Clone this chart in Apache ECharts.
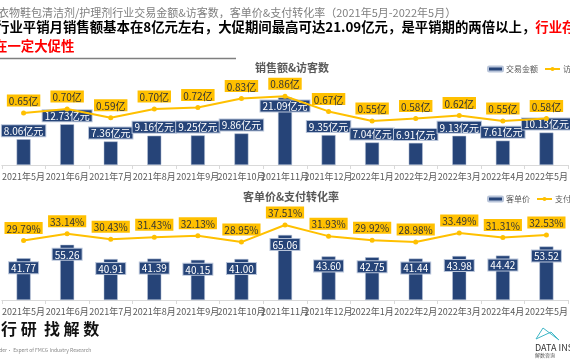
<!DOCTYPE html>
<html><head><meta charset="utf-8">
<script src="https://cdn.jsdelivr.net/npm/echarts@6/dist/echarts.min.js"></script>
<style>html,body{margin:0;padding:0;background:#fff}#c{width:570px;height:360px}</style>
</head><body><div id="c"></div>
<script>
const months = ['2021年5月','2021年6月','2021年7月','2021年8月','2021年9月','2021年10月','2021年11月','2021年12月','2022年1月','2022年2月','2022年3月','2022年4月','2022年5月'];
const sales = [8.06,12.73,7.36,9.16,9.25,9.86,21.09,9.35,7.04,6.91,9.13,7.61,10.13];
const visitors = [0.65,0.70,0.59,0.70,0.72,0.83,0.86,0.67,0.55,0.58,0.62,0.55,0.58];
const aov = [41.77,55.26,40.91,41.39,40.15,41.00,65.06,43.60,42.75,41.44,43.98,44.42,53.52];
const cvr = [29.79,33.14,30.43,31.43,32.13,28.95,37.51,31.93,29.92,28.98,33.49,31.31,32.53];

const FONT = '"Noto Sans CJK SC", "Noto Sans", sans-serif';
const BLUE = '#264478', GOLD = '#FFC000';
const chart = echarts.init(document.getElementById('c'));

const xAxisBase = (gi, margin) => ({
  type: 'category', gridIndex: gi, data: months, boundaryGap: true,
  axisLine: {lineStyle: {color: '#d9d9d9'}},
  axisTick: {show: true, length: 4, lineStyle: {color: '#d9d9d9'}},
  axisLabel: {interval: 0, fontSize: 9, color: '#595959', margin: margin, fontFamily: FONT}
});
const yHidden = (gi, max) => ({type: 'value', gridIndex: gi, min: 0, max: max, show: false, splitLine: {show: false}});

const barLabel = {
  show: true, color: '#fff', fontSize: 10, fontFamily: FONT,
  backgroundColor: BLUE, borderColor: '#b8c4d9', borderWidth: 1, padding: [1, 2, 0, 2]
};
const lineLabel = {
  show: true, position: 'top', distance: 4, color: '#333', fontSize: 10, fontFamily: FONT,
  backgroundColor: GOLD, padding: [2, 2, 0, 2]
};
const legendText = {fontSize: 8, color: '#595959', fontFamily: FONT, padding: [0, 0, 0, -2]};

chart.setOption({
  animation: false,
  textStyle: {fontFamily: FONT},
  grid: [
    {left: -7, right: -13, top: 85, height: 80},
    {left: -7, right: -13, top: 220, height: 80}
  ],
  xAxis: [xAxisBase(0, 7), xAxisBase(1, 7)],
  yAxis: [yHidden(0, 25), yHidden(0, 1.0), yHidden(1, 80), yHidden(1, 40)],
  legend: [
    {left: 487, top: 65, width: 300, padding: 0, itemWidth: 15, itemHeight: 5, itemGap: 6, data: ['交易金额', '访问人数'], textStyle: legendText},
    {left: 487, top: 195, width: 300, padding: 0, itemWidth: 15, itemHeight: 5, itemGap: 6, data: ['客单价', '支付转化率'], textStyle: legendText}
  ],
  series: [
    {name: '交易金额', type: 'bar', xAxisIndex: 0, yAxisIndex: 0, barWidth: 14,
     itemStyle: {color: BLUE, borderColor: '#b8c4d9', borderWidth: 0.5},
     data: sales.map((v, i) => i === 6 ? {value: v, label: {position: 'insideTop', distance: 3}} : v),
     label: Object.assign({}, barLabel, {position: 'top', distance: 3, formatter: p => p.value.toFixed(2) + '亿元'})},
    {name: '访问人数', type: 'line', xAxisIndex: 0, yAxisIndex: 1, symbol: 'circle', symbolSize: 5,
     itemStyle: {color: GOLD}, lineStyle: {color: GOLD, width: 2}, data: visitors, z: 5,
     label: Object.assign({}, lineLabel, {formatter: p => p.value.toFixed(2) + '亿'})},
    {name: '客单价', type: 'bar', xAxisIndex: 1, yAxisIndex: 2, barWidth: 14,
     itemStyle: {color: BLUE, borderColor: '#b8c4d9', borderWidth: 0.5}, data: aov,
     label: Object.assign({}, barLabel, {position: 'insideTop', distance: 4, formatter: p => p.value.toFixed(2)})},
    {name: '支付转化率', type: 'line', xAxisIndex: 1, yAxisIndex: 3, symbol: 'circle', symbolSize: 5,
     itemStyle: {color: GOLD}, lineStyle: {color: GOLD, width: 2}, data: cvr, z: 5,
     label: Object.assign({}, lineLabel, {formatter: p => p.value.toFixed(2) + '%'})}
  ],
  graphic: [
    {type: 'text', x: -2, y: 13, style: {text: '衣物鞋包清洁剂/护理剂行业交易金额&访客数，客单价&支付转化率（2021年5月-2022年5月）', fill: '#7f7f7f', font: '11px ' + FONT, textVerticalAlign: 'middle'}},
    {type: 'text', x: -4, y: 27, style: {rich: {a: {fill: '#000', font: 'bold 13.4px ' + FONT}, r: {fill: '#ff0000', font: 'bold 13.4px ' + FONT}},
      text: '{a|行业平销月销售额基本在8亿元左右，大促期间最高可达21.09亿元，是平销期的两倍以上，}{r|行业存}', textVerticalAlign: 'middle'}},
    {type: 'text', x: -6, y: 46, style: {text: '在一定大促性', fill: '#ff0000', font: 'bold 13.4px ' + FONT, textVerticalAlign: 'middle'}},
    {type: 'line', shape: {x1: 0, y1: 58.5, x2: 236, y2: 58.5}, style: {stroke: '#7f7f7f', lineWidth: 1.5}},
    {type: 'text', x: 292, y: 68, style: {text: '销售额&访客数', fill: '#595959', font: 'bold 11px ' + FONT, textAlign: 'center', textVerticalAlign: 'middle'}},
    {type: 'text', x: 291, y: 197, style: {text: '客单价&支付转化率', fill: '#595959', font: 'bold 11px ' + FONT, textAlign: 'center', textVerticalAlign: 'middle'}},
    {type: 'text', x: 1, y: 329, style: {text: '行 研  找 解 数', fill: '#111', font: 'bold 16px ' + FONT, textVerticalAlign: 'middle'}},
    {type: 'text', x: -9, y: 350, style: {text: 'Insider· Expert of FMCG Industry Research', fill: '#888', font: '5px ' + FONT, textVerticalAlign: 'middle'}},
    {type: 'polyline', shape: {points: [[536, 339], [543, 328], [559, 340], [551, 332], [536, 339]]}, style: {stroke: '#3fb6c6', lineWidth: 1, fill: null}},
    {type: 'text', x: 535, y: 348, style: {text: 'DATA INSIGHT', fill: '#333', font: '9px ' + FONT, textVerticalAlign: 'middle'}},
    {type: 'text', x: 535, y: 355, style: {text: '解数咨询', fill: '#555', font: '5px ' + FONT, textVerticalAlign: 'middle'}}
  ]
});
</script></body></html>
